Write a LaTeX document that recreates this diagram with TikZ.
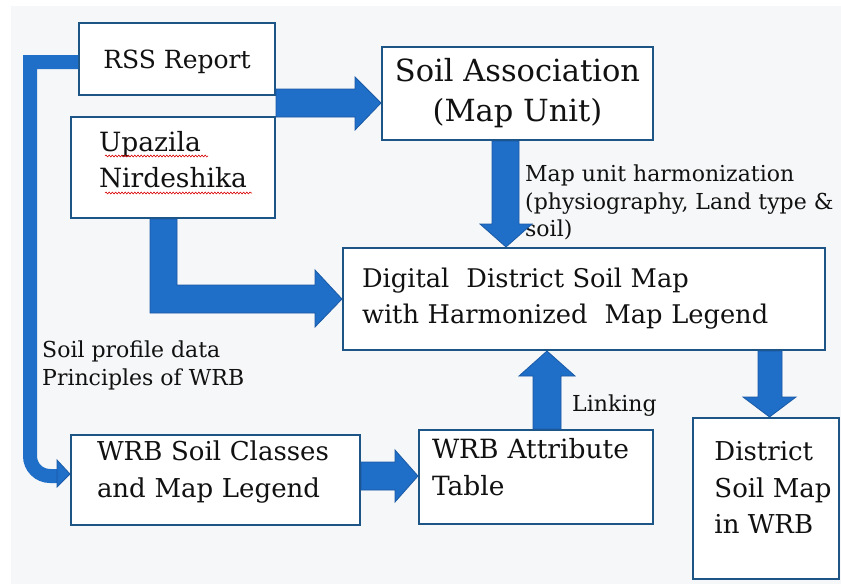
\documentclass[tikz,border=0pt]{standalone}
\usepackage{fontspec}
\setmainfont{DejaVu Serif}
\usetikzlibrary{decorations.pathmorphing}
\definecolor{bgc}{HTML}{F6F7F8}
\definecolor{boxc}{HTML}{1D5587}
\definecolor{arrc}{HTML}{1F6EC7}
\definecolor{arre}{HTML}{1A5AA6}
\definecolor{txtc}{HTML}{111111}
\tikzset{
  box/.style={draw=boxc, line width=2pt, fill=white, text=txtc, inner ysep=0pt},
  barrow/.style={fill=arrc, draw=arre, line width=0.8pt, line join=miter},
  loopline/.style={draw=arrc, line width=14pt, line join=miter},
  lbl/.style={text=txtc, inner sep=0pt, align=left},
  squig/.style={draw=red!85!black, line width=0.6pt, decorate, decoration={snake, segment length=3.2pt, amplitude=0.9pt}},
}
\newcommand{\upshift}[1]{\\[#1]\mbox{}}
\begin{document}
\begin{tikzpicture}[x=1pt, y=-1pt]
\useasboundingbox (0,0) rectangle (841,584);
\fill[white] (0,0) rectangle (841,584);
\fill[bgc] (11,6) rectangle (841,584);

% boxes
\node[box, minimum width=196pt, minimum height=72pt, text depth=0pt, font=\fontsize{25}{36}\selectfont] (rss) at (177,59) {RSS Report};
\node[box, minimum width=204pt, minimum height=101pt, align=left, font=\fontsize{26.5}{36}\selectfont] (upz) at (173,167.5) {Upazila\\Nirdeshika\upshift{-20pt}};
\node[box, minimum width=271pt, minimum height=93pt, align=center, font=\fontsize{30.5}{40}\selectfont] (sa) at (517.5,93.5) {Soil Association\\(Map Unit)};
\node[box, minimum width=482pt, minimum height=102pt, inner xsep=19pt, text width=444pt, align=left, font=\fontsize{25.7}{36}\selectfont] (dig) at (584,299) {Digital\ \ District Soil Map\\with Harmonized\ \ Map Legend};
\node[box, minimum width=289pt, minimum height=90pt, inner xsep=26pt, text width=237pt, align=left, font=\fontsize{26}{37}\selectfont] (wsc) at (215.5,480) {WRB Soil Classes\\and Map Legend\upshift{-15pt}};
\node[box, minimum width=234pt, minimum height=94pt, inner xsep=13pt, text width=208pt, align=left, font=\fontsize{26.5}{37}\selectfont] (wat) at (536,477) {WRB Attribute\\Table\upshift{-17pt}};
\node[box, minimum width=146pt, minimum height=161pt, align=left, font=\fontsize{26}{36.5}\selectfont] (dsm) at (766,498.5) {\hspace*{14pt}District\\\hspace*{14pt}Soil Map\\\hspace*{14pt}in WRB\upshift{-15pt}};

% labels
\node[lbl, anchor=north west, font=\fontsize{22}{27.5}\selectfont] (mlab) at (525,165) {Map unit harmonization\\(physiography, Land type \&\\soil)};
\node[lbl, anchor=north west, font=\fontsize{22}{28}\selectfont] (plab) at (42,341) {Soil profile data\\Principles of WRB};
\node[lbl, anchor=base west, font=\fontsize{22}{28}\selectfont] (link) at (572,411) {Linking};

% spelling squiggles
\draw[squig] (105,156) -- (208,156);
\draw[squig] (105,193) -- (252,193);

% RSS -> Soil Association
\filldraw[barrow] (rss.east |- 0,89) -- (355,89) -- (355,77) -- (sa.west |- 0,103) -- (355,130) -- (355,117) -- (rss.east |- 0,117) -- cycle;
% Upazila -> Digital
\filldraw[barrow] (upz.south -| 150,0) -- (150,313) -- (315,313) -- (315,327) -- (dig.west |- 0,299) -- (315,270) -- (315,285) -- (177,285) -- (upz.south -| 177,0) -- cycle;
% Soil Association -> Digital
\filldraw[barrow] (sa.south -| 492,0) -- (492,224) -- (480,224) -- (dig.north -| 506,0) -- (532,224) -- (519,224) -- (sa.south -| 519,0) -- cycle;
% Attribute table -> Digital
\filldraw[barrow] (wat.north -| 533,0) -- (533,376) -- (519,376) -- (dig.south -| 547,0) -- (575,376) -- (561,376) -- (wat.north -| 561,0) -- cycle;
% Digital -> District map
\filldraw[barrow] (dig.south -| 758,0) -- (758,397) -- (743,397) -- (dsm.north -| 769.5,0) -- (796,397) -- (782,397) -- (dig.south -| 782,0) -- cycle;
% WRB classes -> Attribute table
\filldraw[barrow] (wsc.east |- 0,462) -- (395,462) -- (395,450) -- (wat.west |- 0,476) -- (395,502) -- (395,490) -- (wsc.east |- 0,490) -- cycle;
% loop RSS -> WRB classes
\coordinate (lt) at (30,62);
\draw[loopline] (rss.west |- lt) -- (lt) [rounded corners=20pt] -- (30,476) -- (59,476);
\filldraw[barrow] (57,460) -- (wsc.west |- 0,474) -- (57,487) -- cycle;
\end{tikzpicture}
\end{document}
